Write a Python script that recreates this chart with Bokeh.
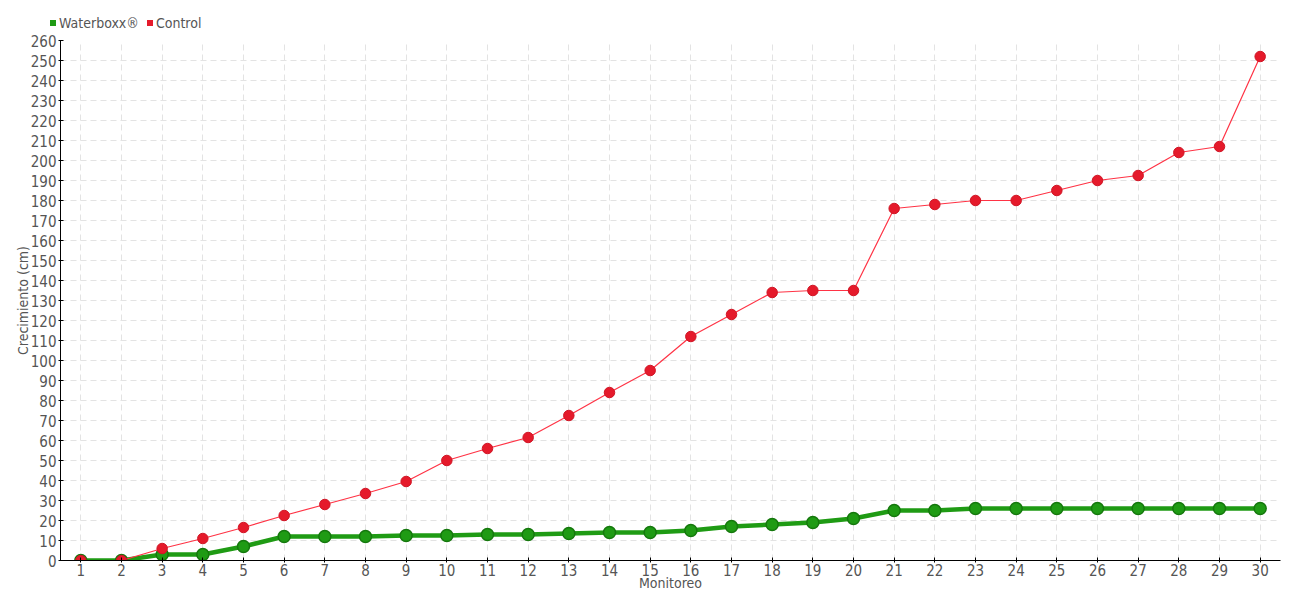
from bokeh.plotting import figure
from bokeh.models import FixedTicker, ColumnDataSource, Div
from bokeh.layouts import column
from bokeh.embed import file_html
from bokeh.resources import INLINE

monitoreo = list(range(1, 31))
control = [0, 0, 6, 11, 16.5, 22.5, 28, 33.5, 39.5, 50, 56, 61.5, 72.5, 84, 95,
           112, 123, 134, 135, 135, 176, 178, 180, 180, 185, 190, 192.5, 204, 207, 252]
waterboxx = [0, 0, 3, 3, 7, 12, 12, 12, 12.5, 12.5, 13, 13, 13.5, 14, 14,
             15, 17, 18, 19, 21, 25, 25, 26, 26, 26, 26, 26, 26, 26, 26]
series_names = ["Waterboxx®", "Control"]
y_ticks = list(range(0, 261, 10))

FONT = "'Liberation Sans Narrow', 'DejaVu Sans Condensed', sans-serif"
GREEN = "#1f9b14"
GREEN_DARK = "#15780d"
RED = "#e51a2b"
RED_LINE = "#ff3345"
TXT = "#555555"
series_colors = [GREEN, RED]

# legend (HTML above the plot)
items = "".join(
    f'<span style="display:inline-block;width:6px;height:6px;background:{c};'
    f'margin-right:3px;vertical-align:middle;"></span>'
    f'<span style="vertical-align:middle;margin-right:8px;">{n}</span>'
    for n, c in zip(series_names, series_colors))
div = Div(text=f'<div style="position:relative;top:14px;left:50px;font-family:{FONT};'
               f'font-size:14px;color:{TXT};white-space:nowrap;line-height:16px;">{items}</div>',
          width=1300, height=32, margin=0)

p = figure(width=1300, height=568, output_backend="svg", toolbar_location=None,
           x_range=(0.5, 30.5), y_range=(0, 260),
           min_border_left=60, min_border_right=20, min_border_top=8, min_border_bottom=40)
p.outline_line_color = None
p.background_fill_color = "white"
p.border_fill_color = "white"

src = ColumnDataSource(dict(x=monitoreo, c=control, w=waterboxx))

p.line("x", "w", source=src, line_color=GREEN, line_width=4.5)
p.scatter("x", "w", source=src, size=12, fill_color=GREEN, line_color=GREEN_DARK, line_width=1.5)
p.line("x", "c", source=src, line_color=RED_LINE, line_width=1.2)
p.scatter("x", "c", source=src, size=10.5, fill_color=RED, line_color="#d01525", line_width=1)

p.xaxis.ticker = FixedTicker(ticks=monitoreo)
p.yaxis.ticker = FixedTicker(ticks=y_ticks)
for ax in (p.xaxis, p.yaxis):
    ax.axis_line_color = "black"
    ax.axis_line_width = 1
    ax.major_tick_line_color = "black"
    ax.major_tick_out = 2
    ax.major_tick_in = 3
    ax.minor_tick_line_color = None
    ax.major_label_text_font = FONT
    ax.major_label_text_font_size = "15px"
    ax.major_label_text_color = TXT
    ax.axis_label_text_font = FONT
    ax.axis_label_text_font_size = "14px"
    ax.axis_label_text_color = TXT
    ax.axis_label_text_font_style = "normal"
p.xaxis.axis_label = "Monitoreo"
p.yaxis.axis_label = "Crecimiento (cm)"
p.xaxis.major_label_standoff = 1
p.xaxis.axis_label_standoff = -4
p.yaxis.major_label_standoff = 2
p.yaxis.axis_label_standoff = -3

p.grid.grid_line_color = "#e3e3e3"
p.grid.grid_line_dash = "6 4"
p.grid.grid_line_width = 1

layout = column(div, p, spacing=0)
open("out.html", "w").write(file_html(layout, INLINE))
